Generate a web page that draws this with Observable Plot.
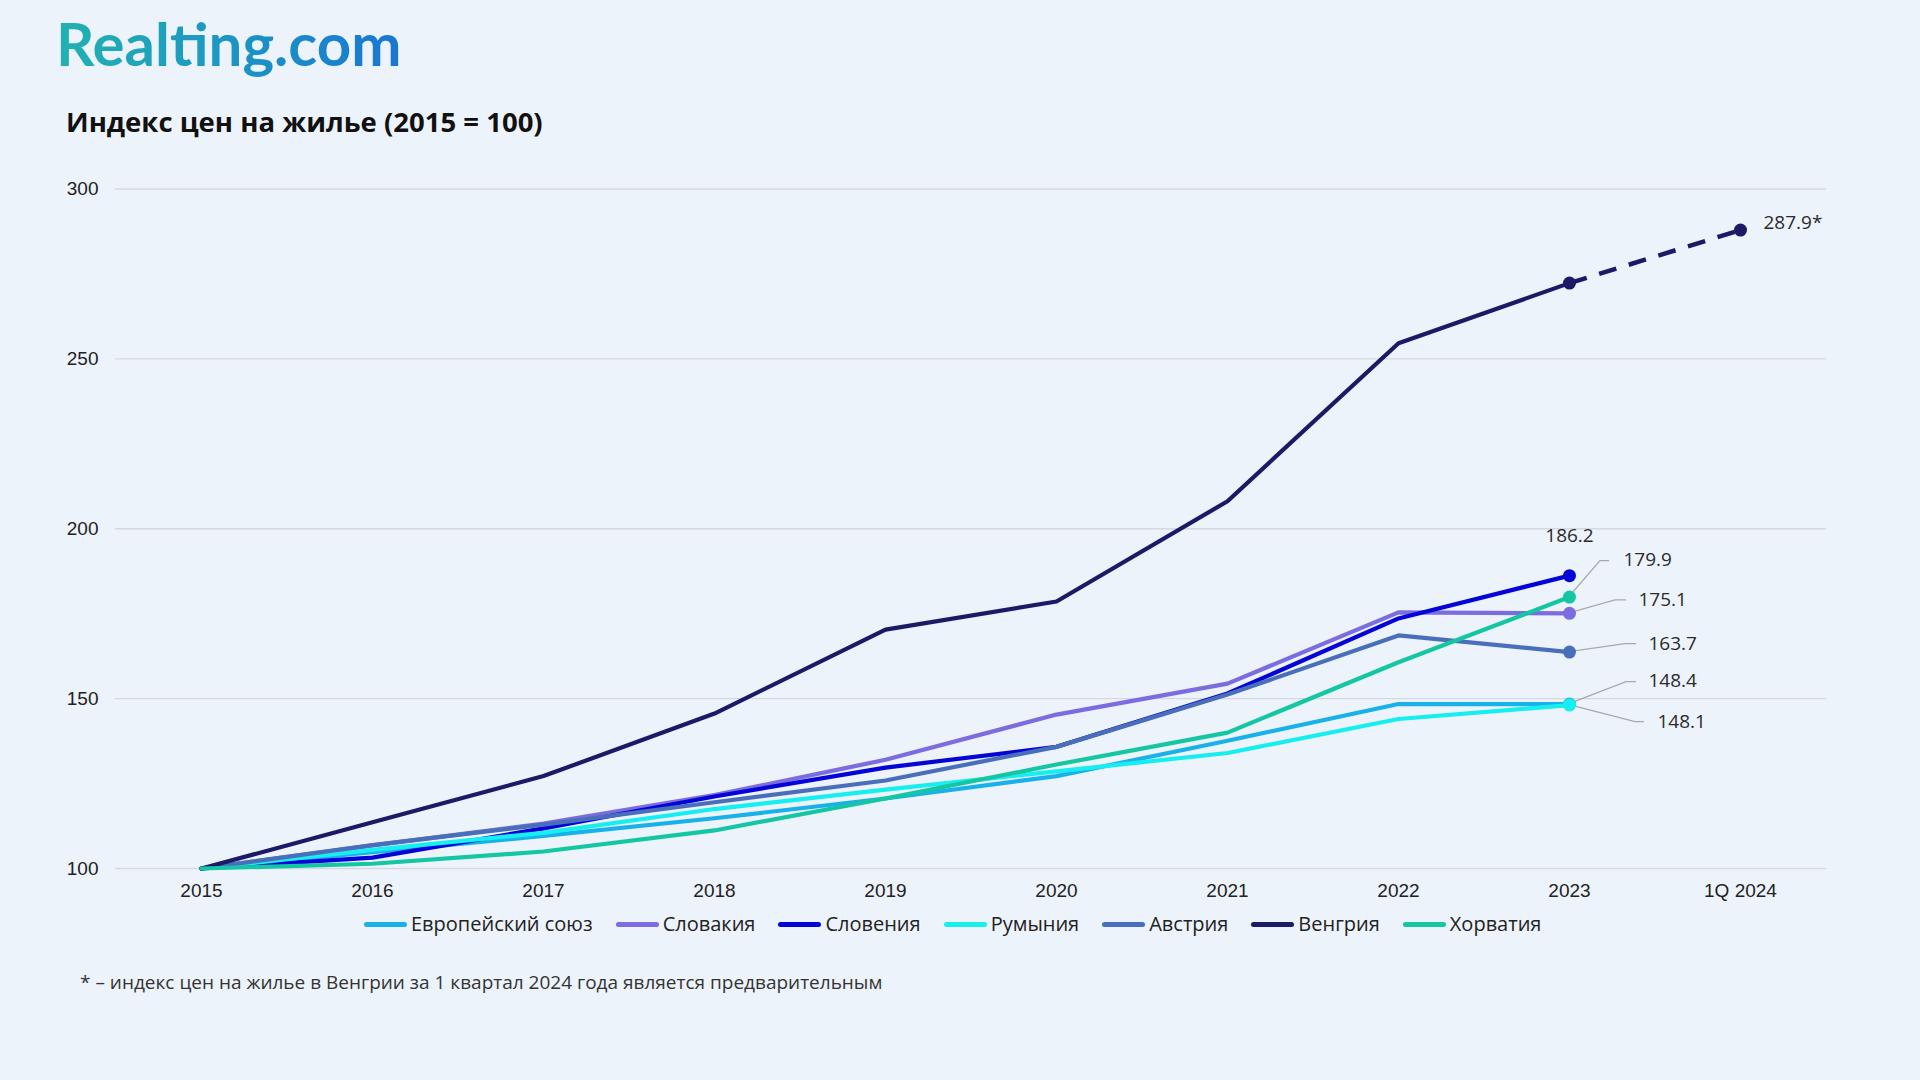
<!DOCTYPE html>
<html>
<head>
<meta charset="utf-8">
<script src="https://cdn.jsdelivr.net/npm/d3@7"></script>
<script src="https://cdn.jsdelivr.net/npm/@observablehq/plot@0.6"></script>
<style>
html, body { margin: 0; padding: 0; background: #edf3fb; }
#page { position: relative; width: 1920px; height: 1080px; background: #edf3fb; overflow: hidden; font-family: "Open Sans", sans-serif; }
#logo { position: absolute; left: 56px; top: 1px; font-family: Lato, "Open Sans", sans-serif; font-weight: 700; font-size: 60px; line-height: 84px;
  background: linear-gradient(90deg, #22b2b0 0%, #1b93c6 55%, #1976d2 100%); -webkit-background-clip: text; background-clip: text; color: transparent; }
#title { position: absolute; left: 66px; top: 103px; font-weight: 700; font-size: 27.5px; line-height: 38px; color: #111; }
#chart { position: absolute; left: 0; top: 150px; }
#legend { position: absolute; top: 910px; left: 364px; display: flex; align-items: center; font-size: 20px; color: #222; line-height: 28px; white-space: nowrap; }
#legend .item { display: flex; align-items: center; margin-right: 23px; }
#legend .sw { width: 43px; height: 5px; border-radius: 3px; margin-right: 4px; }
#note { position: absolute; left: 80px; top: 969px; font-size: 19px; color: #333; line-height: 26px; }
</style>
</head>
<body>
<div id="page">
  <div id="logo">Realting.com</div>
  <div id="title">Индекс цен на жилье (2015 = 100)</div>
  <div id="chart"></div>
  <div id="legend"></div>
  <div id="note">* – индекс цен на жилье в Венгрии за 1 квартал 2024 года является предварительным</div>
</div>
<script>
// ---- data ----
const years = ["2015", "2016", "2017", "2018", "2019", "2020", "2021", "2022", "2023", "1Q 2024"];
const seriesNames = ["Европейский союз", "Словакия", "Словения", "Румыния", "Австрия", "Венгрия", "Хорватия"];
const euValues       = [100, 104.8, 109.6, 114.8, 120.6, 127.2, 137.6, 148.4, 148.4];
const slovakiaValues = [100, 106.8, 113.2, 121.6, 132.0, 145.3, 154.4, 175.4, 175.1];
const sloveniaValues = [100, 103.2, 111.8, 121.2, 129.7, 135.8, 151.5, 173.6, 186.2];
const romaniaValues  = [100, 105.5, 110.5, 117.5, 123.2, 128.6, 134.0, 144.0, 148.1];
const austriaValues  = [100, 106.9, 112.9, 119.5, 125.9, 135.8, 151.2, 168.6, 163.7];
const hungaryValues  = [100, 113.6, 127.2, 145.6, 170.3, 178.6, 208.1, 254.6, 272.3];
const croatiaValues  = [100, 101.4, 105.0, 111.2, 120.6, 130.6, 140.0, 160.7, 179.9];
const hungaryQ1_2024 = 287.9;
const yTicks = [100, 150, 200, 250, 300];

// ---- styles ----
const colors = ["#19b1ea", "#7b6ce0", "#0404d6", "#17eef0", "#4a6fba", "#1b1a66", "#14c6a2"];
const allValues = [euValues, slovakiaValues, sloveniaValues, romaniaValues, austriaValues, hungaryValues, croatiaValues];

const long = [];
seriesNames.forEach((name, s) => {
  allValues[s].forEach((v, i) => long.push({ year: years[i], value: v, series: name }));
});
const last = seriesNames.map((name, s) => ({ year: years[8], value: allValues[s][8], series: name }));
const forecast = [
  { year: years[8], value: hungaryValues[8] },
  { year: years[9], value: hungaryQ1_2024 }
];

// label config (offsets in px from the 2023 point, styles only)
const labelCfg = [
  { s: 2, text: "186.2", dx: 0, dy: -40, anchor: "middle", leader: null },
  { s: 6, text: "179.9", dx: 54, dy: -37, anchor: "start", leader: [31, -36, 40] },
  { s: 1, text: "175.1", dx: 69, dy: -13, anchor: "start", leader: [46, -13, 57] },
  { s: 4, text: "163.7", dx: 79, dy: -8, anchor: "start", leader: [56, -8, 67] },
  { s: 0, text: "148.4", dx: 79, dy: -23, anchor: "start", leader: [57, -22, 67] },
  { s: 3, text: "148.1", dx: 88, dy: 17, anchor: "start", leader: [66, 17, 75] }
];

const labelMarks = labelCfg.map(c => Plot.text([last[c.s]], {
  x: "year", y: "value", text: () => c.text, dx: c.dx, dy: c.dy, textAnchor: c.anchor,
  fontSize: 19, fill: "#2b2b2b", fontFamily: "Open Sans, sans-serif"
}));

const plot = Plot.plot({
  width: 1920,
  height: 758,
  marginLeft: 115,
  marginRight: 94,
  marginTop: 38.5,
  marginBottom: 40,
  style: { background: "transparent", fontFamily: "Liberation Sans, Arial, sans-serif", fontSize: "19px", color: "#222", overflow: "visible" },
  x: { type: "point", domain: years, padding: 0.5, label: null, tickSize: 0, tickPadding: 15 },
  y: { domain: [100, 300], ticks: yTicks, label: null, tickSize: 0, tickPadding: 17 },
  color: { domain: seriesNames, range: colors },
  marks: [
    Plot.ruleY(yTicks, { stroke: "#d5d9df", strokeWidth: 1.4 }),
    Plot.line(long, { x: "year", y: "value", z: "series", stroke: "series", strokeWidth: 4.2 }),
    Plot.line(forecast, { x: "year", y: "value", stroke: colors[5], strokeWidth: 4.5, strokeDasharray: "18,13", strokeLinecap: "butt" }),
    Plot.dot(last, { x: "year", y: "value", fill: "series", r: 6.5 }),
    Plot.dot([forecast[1]], { x: "year", y: "value", fill: colors[5], r: 6.5 }),
    Plot.text([forecast[1]], { x: "year", y: "value", text: d => d.value.toFixed(1) + "*", dx: 23, dy: -7, textAnchor: "start", fontSize: 19, fill: "#2b2b2b", fontFamily: "Open Sans, sans-serif" }),
    ...labelMarks
  ]
});

document.getElementById("chart").appendChild(plot);

// leader lines via the plot's scales
const sx = plot.scale("x"), sy = plot.scale("y");
const svg = d3.select(plot.tagName.toLowerCase() === "svg" ? plot : plot.querySelector("svg"));
const g = svg.append("g").attr("fill", "none").attr("stroke", "#a9a9a9").attr("stroke-width", 1.3);
labelCfg.filter(c => c.leader).forEach(c => {
  const px = sx.apply(last[c.s].year), py = sy.apply(last[c.s].value);
  const [ex, ey, ex2] = c.leader;
  g.append("path").attr("d", `M${px},${py}L${px + ex},${py + ey}L${px + ex2},${py + ey}`);
});
// keep dots above leaders
svg.selectAll("g[aria-label='dot']").raise();

// legend
const legend = d3.select("#legend");
seriesNames.forEach((name, i) => {
  const it = legend.append("div").attr("class", "item");
  it.append("div").attr("class", "sw").style("background", colors[i]);
  it.append("span").text(name);
});
</script>
</body>
</html>
